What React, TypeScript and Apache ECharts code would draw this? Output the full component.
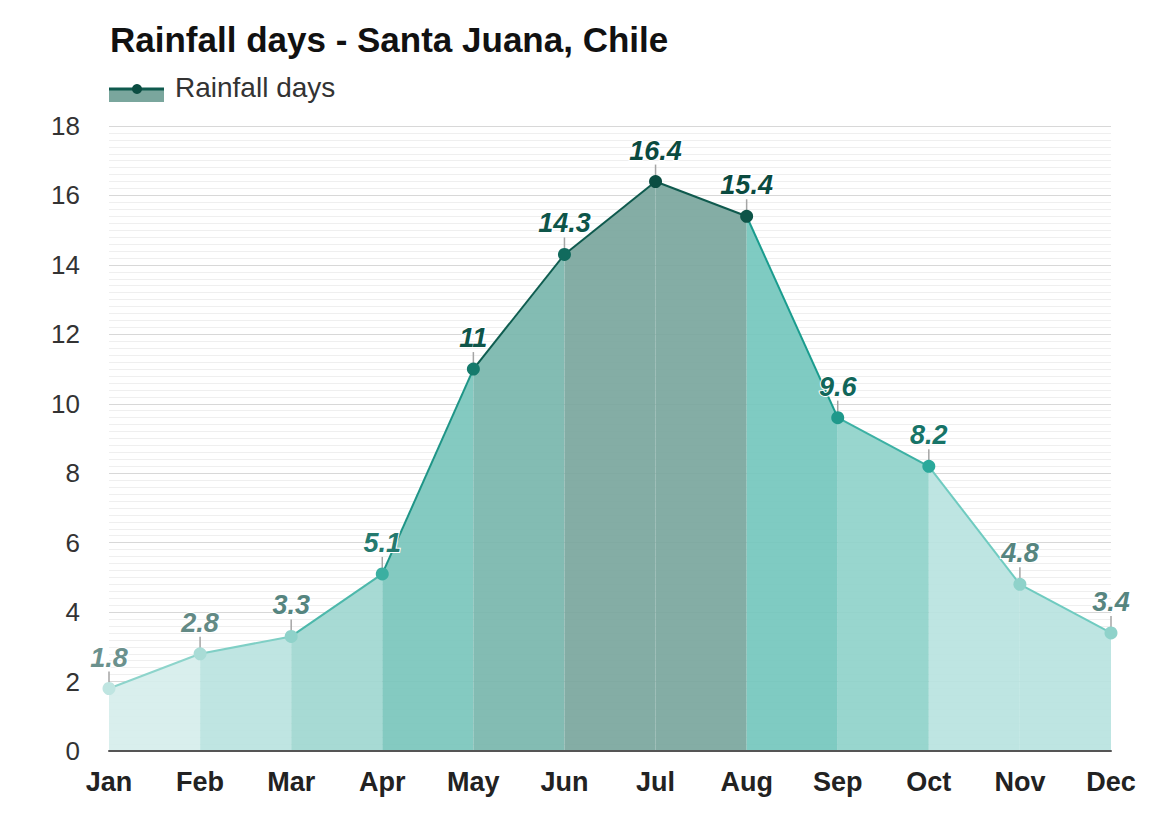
import React, { useEffect, useRef } from "react";
import * as echarts from "echarts";

const months = ["Jan", "Feb", "Mar", "Apr", "May", "Jun", "Jul", "Aug", "Sep", "Oct", "Nov", "Dec"];
const rainfallDays = [1.8, 2.8, 3.3, 5.1, 11, 14.3, 16.4, 15.4, 9.6, 8.2, 4.8, 3.4];
const yTicks = [0, 2, 4, 6, 8, 10, 12, 14, 16, 18];

// segment styles (segment i spans month i to month i+1)
const areaColors = ["#d6eeeb", "#bae3df", "#9fd7d0", "#7ac5bc", "#78b6ad", "#7aa69d", "#7aa69d", "#74c7bd", "#8fd2ca", "#b9e3df", "#b9e3df"];
const lineColors = ["#8dd4cb", "#7fcfc5", "#4db8ab", "#1f9587", "#0f5d50", "#0f5a4e", "#0f5a4e", "#1a9c8e", "#3cb1a4", "#6fcbc0", "#6fcbc0"];
const pointColors = ["#bfe5e1", "#a9dcd6", "#8fd2ca", "#3bafa1", "#167a6c", "#116a5d", "#0b4d42", "#0d5448", "#1f998b", "#2aa99b", "#8fd2ca", "#8fd2ca"];
const labelColors = ["#6b918d", "#638a85", "#56857f", "#257a6f", "#0e5549", "#0e5549", "#0a4a3f", "#0a4a3f", "#11665a", "#177468", "#56857f", "#56857f"];

const FONT = "'Liberation Sans', Arial, Helvetica, sans-serif";

export default function App() {
  const ref = useRef<HTMLDivElement>(null);
  useEffect(() => {
    if (!ref.current) return;
    const chart = echarts.init(ref.current, undefined, { renderer: "svg" });
    const segmentSeries = areaColors.map((c, i) => ({
      type: "line",
      data: rainfallDays.map((v, j) => (j === i || j === i + 1 ? v : "-")),
      symbol: "none",
      lineStyle: { color: lineColors[i], width: 2 },
      areaStyle: { color: c, opacity: 0.92 },
      z: 2,
      silent: true,
    }));
    chart.setOption({
      animation: false,
      backgroundColor: "#ffffff",
      textStyle: { fontFamily: FONT },
      title: {
        text: "Rainfall days - Santa Juana, Chile",
        left: 105,
        top: 17,
        textStyle: { fontFamily: FONT, fontSize: 35, fontWeight: "bold", color: "#111" },
      },
      graphic: [
        { type: "rect", shape: { x: 109, y: 89, width: 55, height: 13 }, style: { fill: "#7aa69d" } },
        { type: "line", shape: { x1: 109, y1: 89, x2: 164, y2: 89 }, style: { stroke: "#0f5a4e", lineWidth: 3 } },
        { type: "circle", shape: { cx: 137, cy: 89, r: 5 }, style: { fill: "#0b4d42" } },
        {
          type: "text",
          x: 175,
          y: 87,
          style: { text: "Rainfall days", fontFamily: FONT, fontSize: 28, fill: "#333", verticalAlign: "middle" },
        },
      ],
      grid: { left: 109, right: 52, top: 126, bottom: 63, containLabel: false },
      xAxis: {
        type: "category",
        data: months,
        boundaryGap: false,
        axisLine: { show: true, lineStyle: { color: "#555", width: 2 } },
        axisTick: { show: false },
        axisLabel: { fontFamily: FONT, fontSize: 27, fontWeight: "bold", color: "#222", margin: 17 },
        splitLine: { show: false },
        z: 10,
      },
      yAxis: {
        type: "value",
        min: yTicks[0],
        max: yTicks[yTicks.length - 1],
        interval: 2,
        axisLine: { show: false },
        axisTick: { show: false },
        axisLabel: { fontFamily: FONT, fontSize: 26, color: "#333", margin: 29 },
        splitLine: { show: true, lineStyle: { color: "#d8d8d8", width: 1 } },
        minorTick: { show: false, splitNumber: 10 },
        minorSplitLine: { show: true, lineStyle: { color: "#efefef", width: 1 } },
      },
      series: [
        ...segmentSeries,
        {
          type: "scatter",
          data: rainfallDays,
          symbol: "rect",
          symbolSize: [1.5, 12],
          symbolOffset: [0, -11],
          itemStyle: { color: "#a5a5a5", opacity: 1 },
          z: 3,
          silent: true,
        },
        {
          type: "scatter",
          data: rainfallDays.map((v, i) => ({
            value: v,
            itemStyle: { color: pointColors[i], opacity: 1 },
            label: { color: labelColors[i] },
          })),
          symbol: "circle",
          symbolSize: 13,
          z: 5,
          itemStyle: { opacity: 1 },
          label: {
            show: true,
            position: "top",
            distance: 11,
            opacity: 1,
            fontFamily: FONT,
            fontSize: 27,
            fontWeight: "bold",
            fontStyle: "italic",
            textBorderColor: "#ffffff",
            textBorderWidth: 2,
          },
          silent: true,
        },
      ],
    });
    return () => chart.dispose();
  }, []);
  return <div ref={ref} style={{ width: 1163, height: 814, position: "absolute", left: 0, top: 0 }} />;
}
